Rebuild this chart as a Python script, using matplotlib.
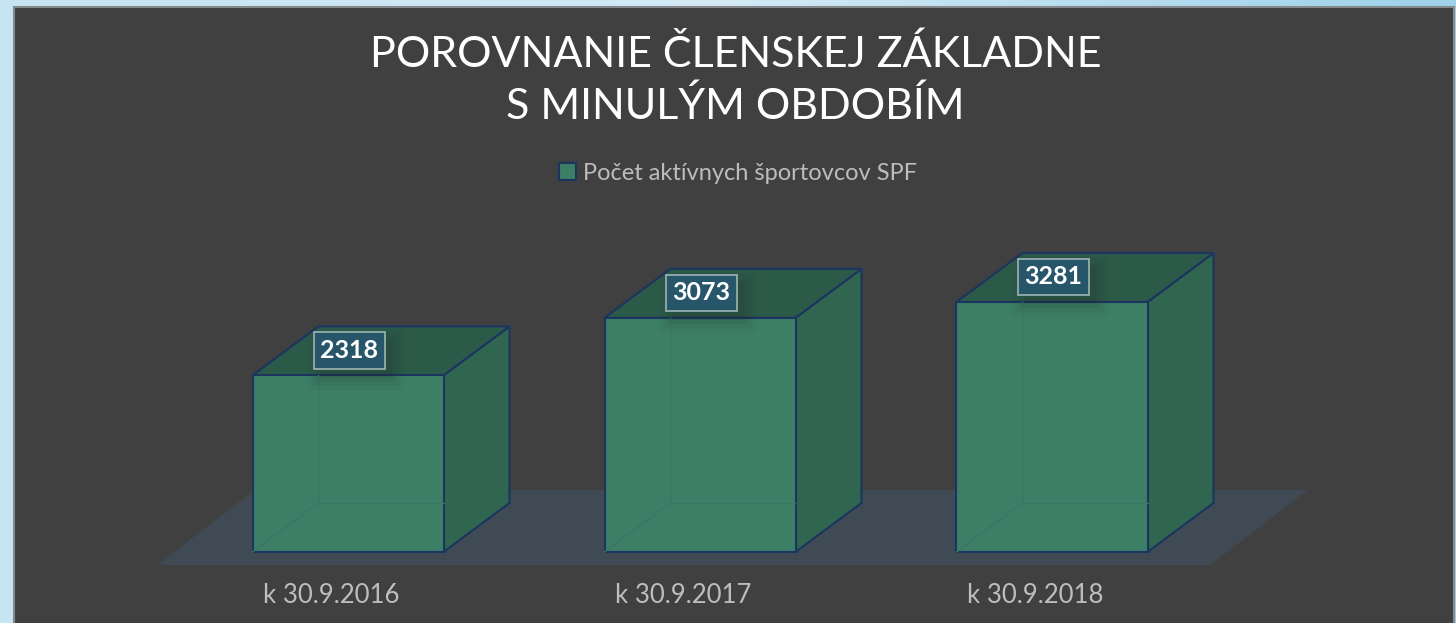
import numpy as np
import matplotlib
matplotlib.use('Agg')
import matplotlib.pyplot as plt
from matplotlib.patches import Polygon, Rectangle
from matplotlib.transforms import ScaledTranslation

categories = ['k 30.9.2016', 'k 30.9.2017', 'k 30.9.2018']
values = [2318, 3073, 3281]
series_name = 'Počet aktívnych športovcov SPF'
title = 'POROVNANIE ČLENSKEJ ZÁKLADNE\nS MINULÝM OBDOBÍM'

plt.rcParams['font.family'] = ['Lato', 'DejaVu Sans']

W, H = 1456, 623
dark = '#404040'
front_col = '#3d7f66'
top_col = '#2c5a48'
side_col = '#306650'
edge_col = '#1b3460'
floor_col = '#3f4a55'
text_col = '#bdbdbd'

fig = plt.figure(figsize=(W / 100, H / 100), dpi=100)

# slide background behind the dark panel
bg = fig.add_axes([0, 0, 1, 1], zorder=0)
bg.set_xlim(0, W)
bg.set_ylim(H, 0)
bg.axis('off')
cmap = matplotlib.colors.LinearSegmentedColormap.from_list('sky', ['#c6e4f2', '#d3eaf5', '#9dd2e9'])
bg.imshow(np.linspace(0, 1, 256).reshape(1, -1), extent=(0, W, H, 0), aspect='auto', cmap=cmap)
bg.add_patch(Rectangle((14, 7), 1440, H, facecolor=dark, edgecolor='#85898b', linewidth=1.5))

# y scale from the bars: 0 sits at pixel 552, about 0.0762 px per member
px_per_val = 0.0762
px_per_cat = 352
x0_px = 348
floor_bottom_px = 565

ax = fig.add_axes([0, 1 - floor_bottom_px / H, 1, floor_bottom_px / H], zorder=1)
ax.patch.set_alpha(0)
ax.set_xlim((0 - x0_px) / px_per_cat, (W - x0_px) / px_per_cat)
ax.set_ylim((552 - floor_bottom_px) / px_per_val, 552 / px_per_val)
for s in ax.spines.values():
    s.set_visible(False)
ax.set_yticks([])

bar_w = 191 / px_per_cat
dx = 66 / px_per_cat
dy = 49 / px_per_val
x = np.arange(len(values))


def fx(px):
    return (px - x0_px) / px_per_cat


def fy(px):
    return (552 - px) / px_per_val


# floor
ax.add_patch(Polygon([(fx(157), fy(565)), (fx(1210), fy(565)), (fx(1308), fy(490)), (fx(255), fy(490))],
                     closed=True, facecolor=floor_col, edgecolor='none', zorder=1))

bars = ax.bar(x, values, width=bar_w, color=front_col, edgecolor=edge_col, linewidth=1.5,
              label=series_name, zorder=4)

for xi, v in zip(x, values):
    l = xi - bar_w / 2
    r = xi + bar_w / 2
    ax.add_patch(Polygon([(r, 0), (r + dx, dy), (r + dx, v + dy), (r, v)], closed=True,
                         facecolor=side_col, edgecolor=edge_col, linewidth=1.5, zorder=3))
    ax.add_patch(Polygon([(l, v), (l + dx, v + dy), (r + dx, v + dy), (r, v)], closed=True,
                         facecolor=top_col, edgecolor=edge_col, linewidth=1.5, zorder=3))
    # hidden edges show faintly through the front face
    ax.plot([l, l + dx, l + dx], [0, dy, v], color='#3a7664', linewidth=1, zorder=5)
    ax.plot([l + dx, r], [dy, dy], color='#3a7664', linewidth=1, zorder=5)
    # soft shadow under the value label
    for grow, a in [(24, 0.04), (16, 0.06), (8, 0.08), (0, 0.1)]:
        sw = (72 + grow) / px_per_cat
        sh = (37 + grow) / px_per_val
        cx = xi + 8 / px_per_cat
        cy = v + 16 / px_per_val
        ax.add_patch(Rectangle((cx - sw / 2, cy - sh / 2), sw, sh, facecolor='#1d2b28', edgecolor='none',
                               alpha=a, zorder=6))
    ax.annotate(f'{v}', (xi, v), xytext=(1, 18), textcoords='offset points', ha='center', va='center',
                fontsize=18, fontweight='bold', color='white', zorder=7,
                bbox=dict(boxstyle='square,pad=0.27', facecolor='#27566a', edgecolor='#9fb5b5', linewidth=1.2))

ax.set_xticks(x)
ax.set_xticklabels(categories, fontsize=18.5, color=text_col)
ax.tick_params(axis='x', length=0, pad=13)
shift = ScaledTranslation(-17 / 100, 0, fig.dpi_scale_trans)
for lab in ax.get_xticklabels():
    lab.set_transform(lab.get_transform() + shift)

fig.text(735.5 / W, 1 - 80 / H, title, ha='center', va='center', color='white', fontsize=31, linespacing=1.37, zorder=5)

ax.legend(loc='center', bbox_to_anchor=(738 / W, 1 - 173 / H), bbox_transform=fig.transFigure, frameon=False,
          fontsize=17, labelcolor=text_col, handlelength=0.7, handleheight=0.7, handletextpad=0.3)

fig.savefig('out.png', dpi=100)
